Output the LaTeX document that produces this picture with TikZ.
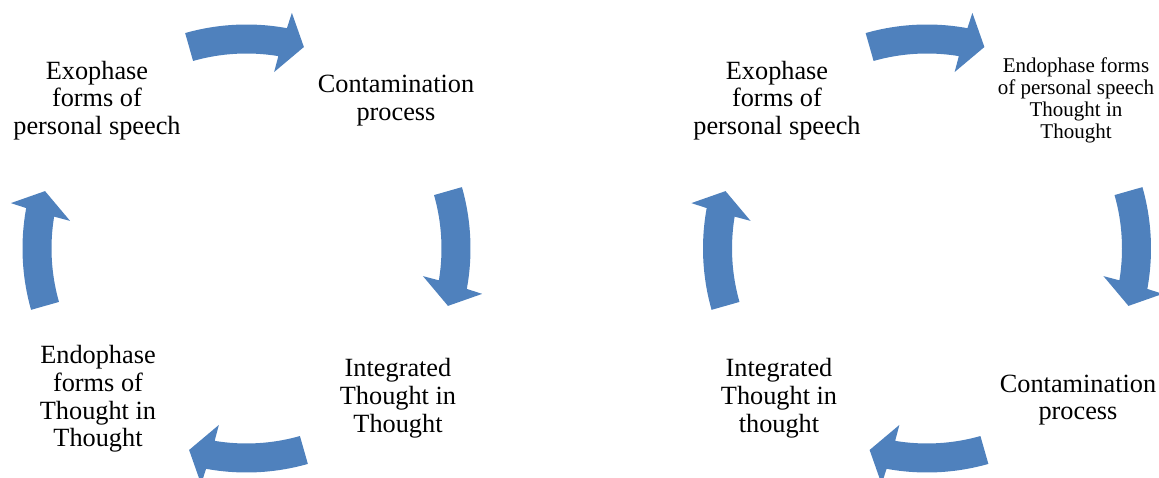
\documentclass[tikz,border=0pt]{standalone}
\usepackage{fontspec}
\setmainfont{Liberation Serif}
\definecolor{arrowblue}{RGB}{79,129,189}
\begin{document}
\begin{tikzpicture}[x=1pt,y=1pt,
  lbl/.style={align=center, inner sep=0pt, font=\fontsize{26.3}{27.8}\selectfont},
  lblsmall/.style={align=center, inner sep=0pt, font=\fontsize{21}{22}\selectfont},
  cycarrow/.pic={\fill[arrowblue] (105.9:224pt) arc[start angle=105.9,end angle=79.6,radius=224pt]
      -- (79.1:240pt) -- (74.1:209.5pt) -- (81.1:178.6pt) -- (80.6:195pt)
      arc[start angle=80.6,end angle=105.9,radius=195pt] -- cycle;}]
\useasboundingbox (0,0) rectangle (1159,478);
\coordinate (cL) at (246.5,229.5);
\coordinate (cR) at (927,229.5);
% left cycle
\node[lbl] (exoL) at (97,377.5) {Exophase\\forms of\\personal speech};
\node[lbl] (conL) at (396,377) {Contamination\\process};
\node[lbl] (intL) at (398,80) {Integrated\\Thought in\\Thought};
\node[lbl] (endoL) at (98,79) {Endophase\\forms of\\Thought in\\Thought};
\pic at (cL) {cycarrow};
\pic[rotate=-90] at (cL) {cycarrow};
\pic[rotate=-180] at (cL) {cycarrow};
\pic[rotate=-270] at (cL) {cycarrow};
% right cycle
\node[lbl] (exoR) at (777,377.5) {Exophase\\forms of\\personal speech};
\node[lblsmall] (endoR) at (1076,378) {Endophase forms\\of personal speech\\Thought in\\Thought};
\node[lbl] (conR) at (1078,78) {Contamination\\process};
\node[lbl] (intR) at (779,79.5) {Integrated\\Thought in\\thought};
\pic at (cR) {cycarrow};
\pic[rotate=-90] at (cR) {cycarrow};
\pic[rotate=-180] at (cR) {cycarrow};
\pic[rotate=-270] at (cR) {cycarrow};
\end{tikzpicture}
\end{document}
